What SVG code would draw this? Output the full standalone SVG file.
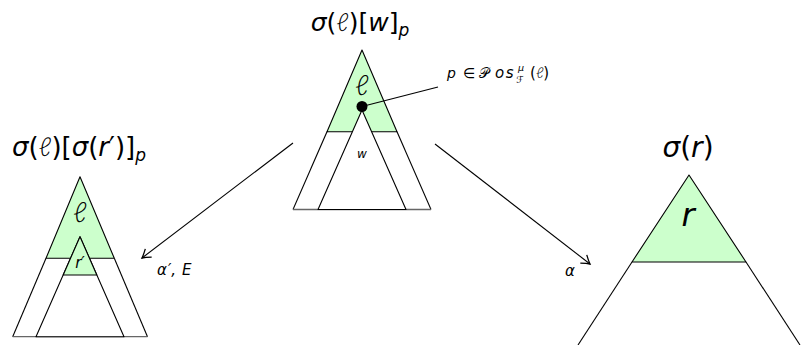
<svg xmlns="http://www.w3.org/2000/svg" width="801" height="345" viewBox="0 0 801 345">
<defs>
<style>
.ln{stroke:#000;stroke-width:1.1;fill:none;stroke-linejoin:round}
.gr{fill:#ccffcc;stroke:#000;stroke-width:1.1;stroke-linejoin:round}
.wh{fill:#fff;stroke:#000;stroke-width:1.1;stroke-linejoin:round}
.base{stroke:#666;stroke-width:1.3}
.t{font-family:"DejaVu Sans","Liberation Sans",sans-serif;fill:#000}
.i{font-style:italic}
.ell{font-family:"Lato","Inter","Open Sans","Liberation Serif",sans-serif;font-style:normal;font-weight:300}
</style>
<marker id="arr" markerUnits="userSpaceOnUse" markerWidth="14" markerHeight="14" refX="0" refY="0" viewBox="-8 -6 10 12" orient="auto" overflow="visible">
<path d="M-7,-4.5 Q-2.5,-1.2 0,0 Q-2.5,1.2 -7,4.5" fill="none" stroke="#000" stroke-width="1.1"/>
</marker>
</defs>
<rect width="801" height="345" fill="#fff"/>

<g id="connectors">
<line class="ln" x1="293" y1="143" x2="142" y2="258" marker-end="url(#arr)"/>
<line class="ln" x1="435" y1="144" x2="590" y2="264" marker-end="url(#arr)"/>
<text class="t i" x="157" y="275" font-size="15">α<tspan dx="1">′,</tspan><tspan dx="6">E</tspan></text>
<text class="t i" x="565" y="276" font-size="15">α</text>
</g>

<g id="node-middle">
<text class="t" x="360" y="31" font-size="25" text-anchor="middle"><tspan class="i">σ</tspan>(<tspan class="ell">ℓ</tspan>)[<tspan class="i">w</tspan>]<tspan class="i" font-size="17" dy="5">p</tspan></text>
<polygon class="gr" points="362,50 327,131.7 397,131.7"/>
<line class="ln" x1="327" y1="131.7" x2="293" y2="209.5"/>
<line class="ln" x1="397" y1="131.7" x2="431" y2="209.5"/>
<line class="base" x1="293" y1="209.5" x2="431" y2="209.5"/>
<polygon class="wh" points="362,110 318,209.5 406,209.5"/>
<text class="t ell" x="362" y="95" font-size="28" text-anchor="middle">ℓ</text>
<text class="t i" x="362" y="158" font-size="12" text-anchor="middle">w</text>
<line class="ln" x1="362" y1="106.5" x2="438" y2="87"/>
<circle cx="362" cy="106.5" r="5.5" fill="#000"/>
<text class="t" x="447" y="78" font-size="14"><tspan class="i">p</tspan><tspan x="463">∈</tspan><tspan x="479">𝒫</tspan><tspan class="i" x="495" font-size="15" letter-spacing="1.5">os</tspan></text>
<text class="t i" x="518" y="70.5" font-size="9.5">μ</text>
<text class="t" x="516" y="83" font-size="9.5">ℱ</text>
<text class="t" x="530" y="78" font-size="15">(<tspan class="ell">ℓ</tspan>)</text>
</g>

<g id="node-left">
<text class="t" x="79" y="156" font-size="26" text-anchor="middle"><tspan class="i">σ</tspan>(<tspan class="ell">ℓ</tspan>)[<tspan class="i">σ</tspan>(<tspan class="i">r</tspan>′)]<tspan class="i" font-size="17" dy="5">p</tspan></text>
<polygon class="gr" points="80,176.7 46,258.3 114.3,258.3"/>
<line class="ln" x1="46" y1="258.3" x2="12.7" y2="336.7"/>
<line class="ln" x1="114.3" y1="258.3" x2="147.5" y2="336.7"/>
<line class="base" x1="12.7" y1="336.7" x2="147.5" y2="336.7"/>
<polygon class="wh" points="80,236.7 36,336.7 124,336.7"/>
<polygon class="gr" points="80,236.7 63.2,275 96.8,275"/>
<text class="t ell" x="80" y="222" font-size="28" text-anchor="middle">ℓ</text>
<text class="t i" x="80" y="268" font-size="15" text-anchor="middle">r′</text>
</g>

<g id="node-right">
<text class="t" x="688" y="157" font-size="28" text-anchor="middle"><tspan class="i">σ</tspan>(<tspan class="i">r</tspan>)</text>
<polygon class="gr" points="689,175 632,262 746,262"/>
<line class="ln" x1="632" y1="262" x2="578" y2="345"/>
<line class="ln" x1="746" y1="262" x2="800" y2="345"/>
<text class="t i" x="688" y="226" font-size="32" text-anchor="middle">r</text>
</g>
</svg>
